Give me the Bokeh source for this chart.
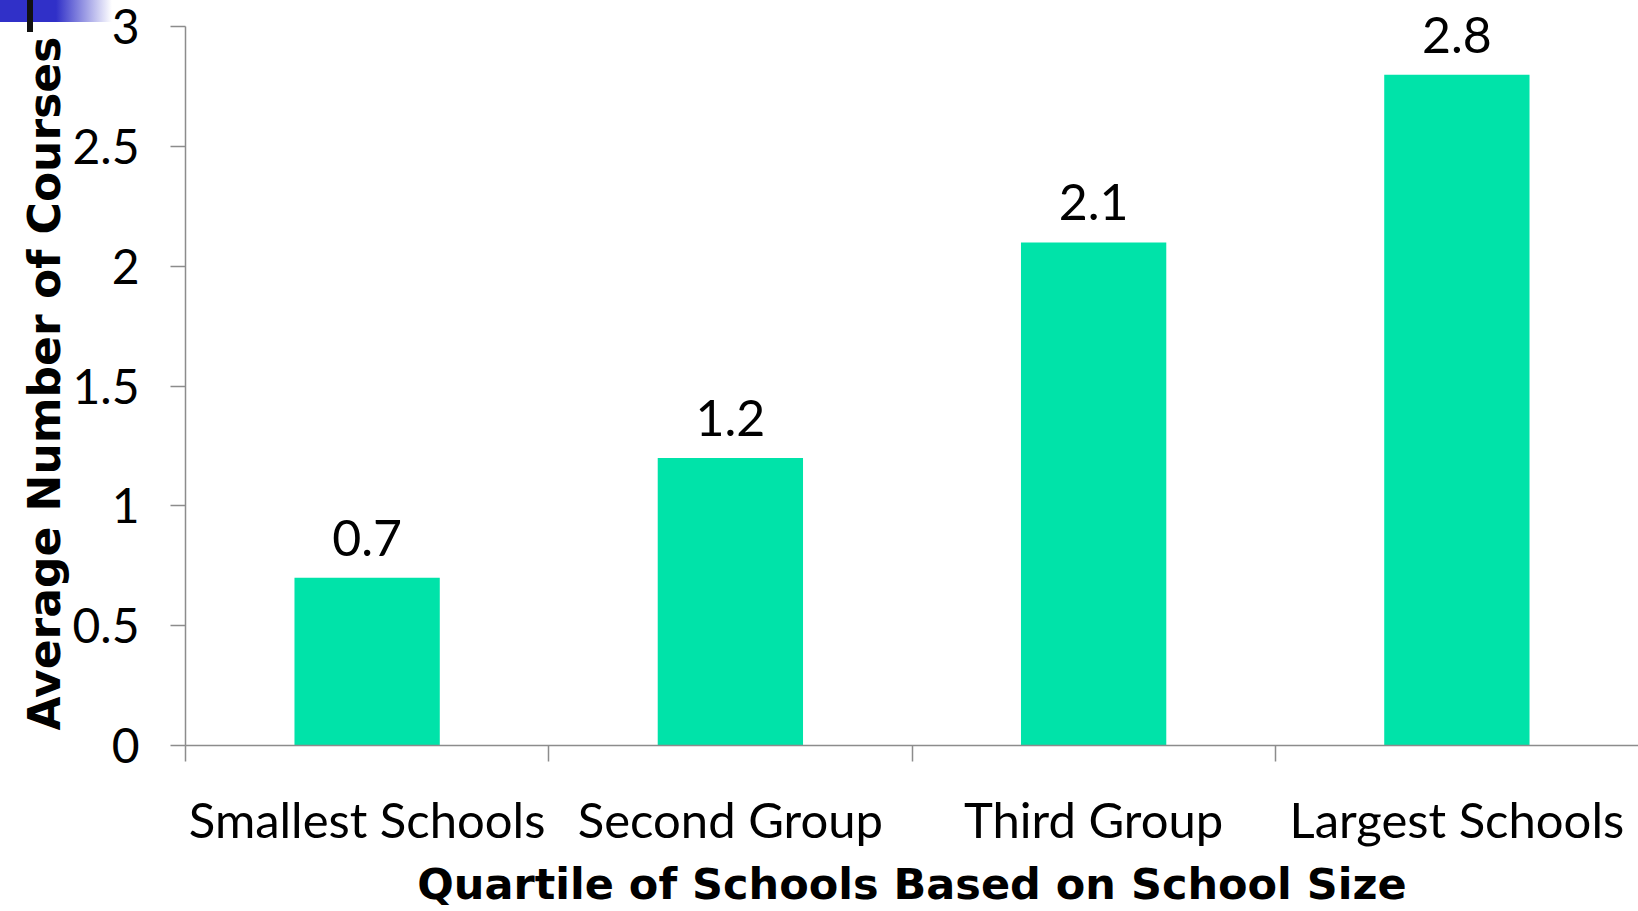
import numpy as np
from bokeh.plotting import figure
from bokeh.models import (Range1d, FixedTicker, NumeralTickFormatter,
                          ColumnDataSource, LabelSet, Title)
from bokeh.core.properties import value
from bokeh.embed import file_html
from bokeh.resources import INLINE

# Average number of courses per school-size quartile
categories = ["Smallest Schools", "Second Group", "Third Group", "Largest Schools"]
avg_courses = [0.7, 1.2, 2.1, 2.8]
value_labels = ["0.7", "1.2", "2.1", "2.8"]
y_ticks = [0, 0.5, 1, 1.5, 2, 2.5, 3]
y_max = 3

BAR_COLOR = "#00E3A9"
AXIS_COLOR = "#8c8c8c"

n = len(categories)
centers = np.arange(n) + 0.5          # bar / label positions
bounds = np.arange(n).astype(float)   # separators between groups

src = ColumnDataSource(dict(x=centers, top=avg_courses, label=value_labels))

# a little head-room above the axis so the tallest value label is not clipped
p = figure(width=1638, height=911, output_backend="svg", toolbar_location=None,
           x_range=Range1d(0, n), y_range=Range1d(0, 3.11),
           min_border_left=185, min_border_right=0,
           min_border_top=0, min_border_bottom=159)
p.grid.visible = False
p.outline_line_color = None
# transparent canvas so the slide accent painted on the host shows through
p.background_fill_color = None
p.border_fill_color = None
p.styles = {
    "background": (
        "linear-gradient(#111111, #111111) 27px 0px / 6px 32px no-repeat, "
        "linear-gradient(to right, #3030c8 0px, #3030c8 56px, #ffffff 112px) "
        "0px 0px / 112px 22px no-repeat, #ffffff"
    )
}

p.vbar(x="x", top="top", width=0.4, source=src, fill_color=BAR_COLOR, line_color=None)

p.add_layout(LabelSet(x="x", y="top", text="label", source=src,
                      text_align="center", text_baseline="alphabetic",
                      y_offset=22, text_color="black",
                      text_font=value("Lato"), text_font_size=value("50px")))

# x axis: category names centred, separator ticks between groups
xa = p.xaxis[0]
xa.ticker = FixedTicker(ticks=list(centers), minor_ticks=list(bounds))
xa.major_label_overrides = {float(c): name for c, name in zip(centers, categories)}
xa.major_tick_out = 0
xa.major_tick_in = 0
xa.minor_tick_out = 16
xa.minor_tick_in = 0
xa.minor_tick_line_color = AXIS_COLOR
xa.minor_tick_line_width = 1.5
xa.axis_line_color = AXIS_COLOR
xa.axis_line_width = 1.5
xa.major_label_text_font = "Lato"
xa.major_label_text_font_size = "49px"
xa.major_label_text_color = "black"
xa.major_label_standoff = 28
xa.axis_label = "Quartile of Schools Based on School Size"
xa.axis_label_text_font = "DejaVu Sans"
xa.axis_label_text_font_style = "bold"
xa.axis_label_text_font_size = "43px"
xa.axis_label_text_color = "black"
xa.axis_label_standoff = 8

# y axis, line drawn only over the 0..3 span
ya = p.yaxis[0]
ya.bounds = (0, y_max)
ya.ticker = FixedTicker(ticks=y_ticks, minor_ticks=[])
ya.formatter = NumeralTickFormatter(format="0.[0]")
ya.major_tick_out = 15
ya.major_tick_in = 0
ya.major_tick_line_color = AXIS_COLOR
ya.major_tick_line_width = 1.5
ya.minor_tick_line_color = None
ya.axis_line_color = AXIS_COLOR
ya.axis_line_width = 1.5
ya.major_label_text_font = "Lato"
ya.major_label_text_font_size = "48px"
ya.major_label_text_color = "black"
ya.major_label_standoff = 31

# y title as a side title, starting just above the axis origin
p.add_layout(Title(text="Average Number of Courses", align="left", offset=15,
                   standoff=0, text_font="DejaVu Sans", text_font_style="bold",
                   text_font_size="44px", text_color="black"), "left")

open("out.html", "w").write(file_html(p, INLINE))
